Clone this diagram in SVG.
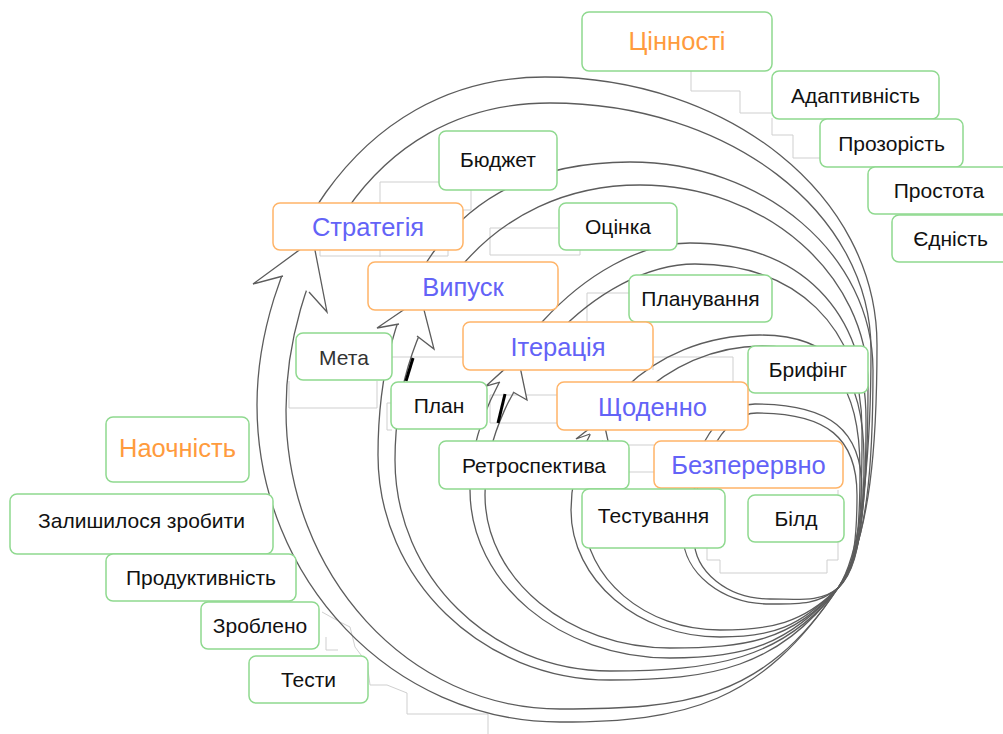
<svg xmlns="http://www.w3.org/2000/svg" width="1003" height="734" viewBox="0 0 1003 734">
<style>
.bx{fill:#fff;stroke:#8fd98f;stroke-width:1.5}
.bo{fill:#fff;stroke:#ffb468;stroke-width:1.5}
.t{font-family:"Liberation Sans",Arial,sans-serif;font-size:21px;fill:#111;text-anchor:middle}
.tb{font-size:25.5px;fill:#6363f7}
.to{font-size:25.5px;fill:#ff9b3d}
.lp{fill:none;stroke:#5c5c5c;stroke-width:1.3}
.hd{fill:#fff;stroke:#5c5c5c;stroke-width:1.3;stroke-linejoin:miter}
.cn{fill:none;stroke:#cfcfcf;stroke-width:1}
</style>
<defs>
<!-- gaps cut out of each loop where its arrowhead sits -->
<mask id="mS" maskUnits="userSpaceOnUse" x="0" y="0" width="1003" height="734"><rect width="1003" height="734" fill="#fff"/><polygon points="269,267.4 325,301.8 360,228 285,222" fill="#000"/></mask>
<mask id="mV" maskUnits="userSpaceOnUse" x="0" y="0" width="1003" height="734"><rect width="1003" height="734" fill="#fff"/><polygon points="389,317.3 430,344.7 455,292 400,288" fill="#000"/></mask>
<mask id="mI" maskUnits="userSpaceOnUse" x="0" y="0" width="1003" height="734"><rect width="1003" height="734" fill="#fff"/><polygon points="492,375.8 524,400.5 540,355 500,352" fill="#000"/></mask>
<mask id="mD" maskUnits="userSpaceOnUse" x="0" y="0" width="1003" height="734"><rect width="1003" height="734" fill="#fff"/><polygon points="582,429.3 612,446.8 620,418 590,415" fill="#000"/></mask>
<mask id="mC" maskUnits="userSpaceOnUse" x="0" y="0" width="1003" height="734"><rect width="1003" height="734" fill="#fff"/><polygon points="678,501.7 706,511 712,480 682,480" fill="#000"/></mask>
</defs>

<!-- connectors -->
<g id="connectors" class="cn">
<path d="M691,71 V91 H740 V113 H772"/>
<path d="M772,118 V135 H793 V158 H820"/>
<path d="M440,182 H380 V257"/>
<path d="M320,250 V256 H448 V250"/>
<path d="M471,189 V210 H460"/>
<path d="M558,228 H490 V255 H580 V250"/>
<path d="M629,293 H587 V321"/>
<path d="M653,370 V357 H733 V382"/>
<path d="M629,445 H654 M629,472 H654"/>
<path d="M490,395 H558 M490,395 V423 H558"/>
<path d="M289,381 V408 H377 V381"/>
<path d="M392,403 H387 V430 H392"/>
<path d="M392,357 H463"/>
<path d="M707,515 V560 H720 V573 H827 V560 H838 V490"/>
<path d="M322,612 L340,622 L350,627 L355,647 L367,663 L370,685 L387,685 L407,693 L407,714 L488,714 L488,734"/>
<path d="M326,637 V650 H338"/>
</g>

<!-- nested iteration loops, all meeting at the lower right -->
<g id="loop-strategy">
<g mask="url(#mS)" class="lp">
<path d="M838,588 C761.6,703.3 685,722 560,722 C393,722 257,580 257,405 C257,275 345,77 545,77 C728,77 877,195 877,345 C877,440 871,538 838,588"/>
<path d="M838,588 C763,701 685,709 560,709 C409,709 286,575 286,410 C286,285 360,103 550,103 C727,103 871,211 871,350 C871,430 865.5,546.5 838,588"/>
</g>
<polyline class="hd" points="283,276 253,284 313,240 327,312 309,292"/>
</g>
<g id="loop-release">
<g mask="url(#mV)" class="lp">
<path d="M838,588 C778,668 712.6,680 610,680 C482,680 378,579 378,455 C378,295 449,162 630,162 C764,162 873,255 873,370 C873,460 868,548 838,588"/>
<path d="M838,588 C784,660 712,671 610,671 C491,671 395,576 395,460 C395,310 490,185 640,185 C766,185 868,275 868,385 C868,470 865,552 838,588"/>
</g>
<polyline class="hd" points="399,324 377,328 421,298 434,349 417,336"/>
</g>
<g id="loop-iteration">
<g mask="url(#mI)" class="lp">
<path d="M838,588 C789,645 745,658 670,658 C560,658 470,583 470,490 C470,370 590,243 690,243 C800,243 866,310 866,420 C866,490 864,558 838,588"/>
<path d="M838,588 C792.5,641 745,648 670,648 C569,648 485,579 485,495 C485,380 600,264 695,264 C795,264 862,325 862,430 C862,495 862.7,559 838,588"/>
</g>
<polyline class="hd" points="500,382 486,386 518,357 527,400 513,392"/>
</g>
<g id="loop-daily">
<g mask="url(#mD)" class="lp">
<path d="M838,588 C799.5,627 773,637 720,637 C638,637 571,580 571,510 C571,420 650,335 760,335 C833,335 864,373 864,460 C864,520 859,567 838,588"/>
<path d="M838,588 C803,623.5 770,630 720,630 C645,630 584,578 584,515 C584,430 665,346 762,346 C830,346 860,383 860,470 C860,525 857.6,568 838,588"/>
</g>
<polyline class="hd" points="590,434 576,439 603,418 610,450 602,441"/>
</g>
<g id="loop-continuous">
<g mask="url(#mC)" class="lp">
<path d="M838,588 C819,604.5 800,604 770,604 C722,604 683,573 683,535 C683,463 715,404 755,404 C830,404 862,430 862,490 C862,530 856.75,571.5 838,588"/>
<path d="M838,588 C821.5,602.5 798,599 770,599 C728,599 694,572 694,538 C694,469 722,413 757,413 C827,413 857,438 857,495 C857,532 854.5,573.5 838,588"/>
</g>
<polyline class="hd" points="685,504 675,508 697,486 703,516 697,508"/>
</g>
<g id="marks" stroke="#000" stroke-width="3">
<line x1="413" y1="358" x2="406" y2="381"/>
<line x1="505" y1="394" x2="498" y2="423"/>
</g>

<!-- nodes -->
<g id="n-values"><rect class="bx" x="582" y="12" width="190" height="59" rx="7"/><text class="t to" x="677" y="49.5">Цінності</text></g>
<g id="n-adapt"><rect class="bx" x="772" y="71" width="167" height="48" rx="7"/><text class="t" x="855.5" y="102.5">Адаптивність</text></g>
<g id="n-transp"><rect class="bx" x="820" y="119" width="143" height="48" rx="7"/><text class="t" x="891.5" y="150.5">Прозорість</text></g>
<g id="n-simple"><rect class="bx" x="868" y="167" width="142" height="47" rx="7"/><text class="t" x="939" y="198">Простота</text></g>
<g id="n-unity"><rect class="bx" x="892" y="215" width="117" height="47" rx="7"/><text class="t" x="950.5" y="246">Єдність</text></g>
<g id="n-budget"><rect class="bx" x="439" y="131" width="118" height="59" rx="7"/><text class="t" x="498" y="166.5">Бюджет</text></g>
<g id="n-strategy"><rect class="bo" x="273" y="203" width="190" height="47" rx="7"/><text class="t tb" x="368" y="236">Стратегія</text></g>
<g id="n-estimate"><rect class="bx" x="559" y="203" width="118" height="47" rx="7"/><text class="t" x="618" y="234">Оцінка</text></g>
<g id="n-release"><rect class="bo" x="368" y="262" width="190" height="48" rx="7"/><text class="t tb" x="463" y="295.5">Випуск</text></g>
<g id="n-planning"><rect class="bx" x="629" y="275" width="143" height="47" rx="7"/><text class="t" x="700.5" y="306">Планування</text></g>
<g id="n-goal"><rect class="bx" x="296" y="333" width="96" height="47" rx="7"/><text class="t" x="344" y="364.5" style="fill:#333">Мета</text></g>
<g id="n-iteration"><rect class="bo" x="463" y="322" width="190" height="48" rx="7"/><text class="t tb" x="558" y="355.5">Ітерація</text></g>
<g id="n-briefing"><rect class="bx" x="748" y="346" width="120" height="47" rx="7"/><text class="t" x="808" y="377">Брифінг</text></g>
<g id="n-plan"><rect class="bx" x="391" y="382" width="96" height="47" rx="7"/><text class="t" x="439" y="413">План</text></g>
<g id="n-daily"><rect class="bo" x="557" y="382" width="191" height="48" rx="7"/><text class="t tb" x="652.5" y="415.5">Щоденно</text></g>
<g id="n-visibility"><rect class="bx" x="106" y="417" width="143" height="65" rx="7"/><text class="t to" x="177.5" y="456.5">Наочність</text></g>
<g id="n-retro"><rect class="bx" x="439" y="441" width="190" height="48" rx="7"/><text class="t" x="534" y="472.5">Ретроспектива</text></g>
<g id="n-continuous"><rect class="bo" x="654" y="441" width="189" height="47" rx="7"/><text class="t tb" x="748.5" y="474">Безперервно</text></g>
<g id="n-testing"><rect class="bx" x="582" y="489" width="143" height="59" rx="7"/><text class="t" x="653.5" y="522.5">Тестування</text></g>
<g id="n-build"><rect class="bx" x="748" y="495" width="96" height="47" rx="7"/><text class="t" x="796" y="526">Білд</text></g>
<g id="n-todo"><rect class="bx" x="10" y="494" width="263" height="60" rx="7"/><text class="t" x="141.5" y="528">Залишилося зробити</text></g>
<g id="n-velocity"><rect class="bx" x="106" y="554" width="190" height="47" rx="7"/><text class="t" x="201" y="585">Продуктивність</text></g>
<g id="n-done"><rect class="bx" x="201" y="602" width="118" height="47" rx="7"/><text class="t" x="260" y="633">Зроблено</text></g>
<g id="n-tests"><rect class="bx" x="249" y="656" width="119" height="47" rx="7"/><text class="t" x="308.5" y="687">Тести</text></g>
</svg>
